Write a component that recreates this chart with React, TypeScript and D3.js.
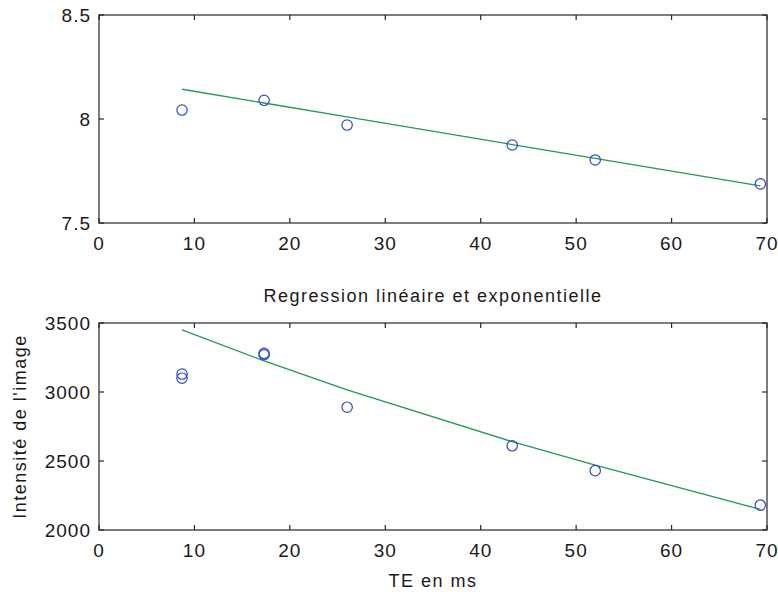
import React from "react";
import * as d3 from "d3";

// Data
const teAll = [8.7, 8.7, 17.3, 17.3, 26, 43.3, 52, 69.3];
const intensity = [3130, 3100, 3280, 3270, 2890, 2610, 2430, 2180];
const teMean = [8.7, 17.3, 26, 43.3, 52, 69.3];
const logIntensity = [8.043, 8.09, 7.971, 7.875, 7.803, 7.688];
const linFit = [8.143, 8.077, 8.01, 7.877, 7.811, 7.679];
const expFit = [3450, 3225, 3015, 2640, 2470, 2150];
const xTicks = [0, 10, 20, 30, 40, 50, 60, 70];
const topYTicks = [7.5, 8, 8.5];
const bottomYTicks = [2000, 2500, 3000, 3500];
const topYLabels = ["7.5", "8", "8.5"];
const bottomYLabels = ["2000", "2500", "3000", "3500"];
const titleText = "Regression linéaire et exponentielle";
const xLabelText = "TE en ms";
const yLabelText = "Intensité de l'image";

const W = 778;
const H = 592;
const LEFT = 99;
const RIGHT = 767;
const FONT = "'Liberation Sans', Arial, Helvetica, sans-serif";
const AXIS = "#262626";
const BLUE = "#3348c4";
const GREEN = "#1f9a55";
const TICK = 5;

type PanelProps = {
  top: number;
  bottom: number;
  yDomain: [number, number];
  yTicks: number[];
  yLabels: string[];
  px: number[];
  py: number[];
  fx: number[];
  fy: number[];
};

function Panel({ top, bottom, yDomain, yTicks, yLabels, px, py, fx, fy }: PanelProps) {
  const x = d3.scaleLinear().domain([0, 70]).range([LEFT, RIGHT]);
  const y = d3.scaleLinear().domain(yDomain).range([bottom, top]);
  const line = d3
    .line<number>()
    .x((_, i) => x(fx[i]))
    .y((d) => y(d));
  return (
    <g>
      {/* fit line */}
      <path d={line(fy) || ""} fill="none" stroke={GREEN} strokeWidth={1.3} />
      {/* points */}
      {py.map((v, i) => (
        <circle key={i} cx={x(px[i])} cy={y(v)} r={5.2} fill="none" stroke={BLUE} strokeWidth={1.2} />
      ))}
      {/* frame */}
      <rect x={LEFT} y={top} width={RIGHT - LEFT} height={bottom - top} fill="none" stroke={AXIS} strokeWidth={1.2} />
      {/* x ticks */}
      {xTicks.map((t) => (
        <g key={"x" + t}>
          <line x1={x(t)} x2={x(t)} y1={bottom} y2={bottom - TICK} stroke={AXIS} strokeWidth={1.2} />
          <line x1={x(t)} x2={x(t)} y1={top} y2={top + TICK} stroke={AXIS} strokeWidth={1.2} />
          <text
            x={x(t)}
            y={bottom + 22}
            textAnchor="middle"
            dominantBaseline="middle"
            fontFamily={FONT}
            fontSize={19}
            letterSpacing={1}
            fill="#1a1a1a"
          >
            {t}
          </text>
        </g>
      ))}
      {/* y ticks */}
      {yTicks.map((t, i) => (
        <g key={"y" + t}>
          <line x1={LEFT} x2={LEFT + TICK} y1={y(t)} y2={y(t)} stroke={AXIS} strokeWidth={1.2} />
          <line x1={RIGHT} x2={RIGHT - TICK} y1={y(t)} y2={y(t)} stroke={AXIS} strokeWidth={1.2} />
          <text
            x={LEFT - 8}
            y={y(t) + 2}
            textAnchor="end"
            dominantBaseline="middle"
            fontFamily={FONT}
            fontSize={19}
            letterSpacing={1}
            fill="#1a1a1a"
          >
            {yLabels[i]}
          </text>
        </g>
      ))}
    </g>
  );
}

export default function App() {
  return (
    <svg
      width={W}
      height={H}
      style={{ position: "absolute", left: 0, top: 0, background: "#fff" }}
    >
      <rect x={0} y={0} width={W} height={H} fill="#fff" />
      <Panel
        top={15}
        bottom={223}
        yDomain={[7.5, 8.5]}
        yTicks={topYTicks}
        yLabels={topYLabels}
        px={teMean}
        py={logIntensity}
        fx={teMean}
        fy={linFit}
      />
      <Panel
        top={323}
        bottom={530}
        yDomain={[2000, 3500]}
        yTicks={bottomYTicks}
        yLabels={bottomYLabels}
        px={teAll}
        py={intensity}
        fx={teMean}
        fy={expFit}
      />
      <text
        x={(LEFT + RIGHT) / 2}
        y={297}
        textAnchor="middle"
        dominantBaseline="middle"
        fontFamily={FONT}
        fontSize={18}
        letterSpacing={1.5}
        fill="#1a1a1a"
      >
        {titleText}
      </text>
      <text
        x={(LEFT + RIGHT) / 2}
        y={582}
        textAnchor="middle"
        dominantBaseline="middle"
        fontFamily={FONT}
        fontSize={18}
        letterSpacing={1.5}
        fill="#1a1a1a"
      >
        {xLabelText}
      </text>
      <text
        transform={`translate(21, ${(323 + 530) / 2}) rotate(-90)`}
        textAnchor="middle"
        dominantBaseline="middle"
        fontFamily={FONT}
        fontSize={18}
        letterSpacing={1.5}
        fill="#1a1a1a"
      >
        {yLabelText}
      </text>
    </svg>
  );
}
